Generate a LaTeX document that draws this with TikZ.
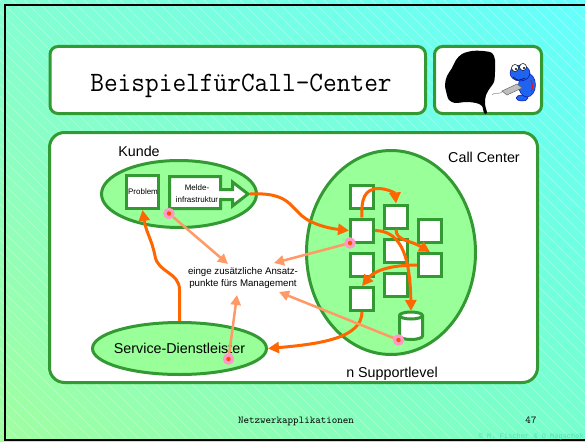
\documentclass[tikz,border=0pt]{standalone}
\usepackage{graphicx}
\usepackage{fontspec}
\setmainfont{Liberation Sans}
\newfontfamily\creditfont{Liberation Mono}
\usetikzlibrary{arrows.meta,shapes.geometric,shadings}

\definecolor{bgUL}{RGB}{130,255,210}
\definecolor{bgUR}{RGB}{100,255,255}
\definecolor{bgLL}{RGB}{160,255,160}
\definecolor{bgLR}{RGB}{118,255,205}
\definecolor{frameGreen}{RGB}{51,153,51}
\definecolor{lightGreen}{RGB}{153,255,153}
\definecolor{flowOrange}{RGB}{255,102,0}
\definecolor{mgmtSalmon}{RGB}{255,153,102}
\definecolor{dotPink}{RGB}{255,153,204}
\definecolor{dotCore}{RGB}{255,80,0}
\definecolor{creatureBlue}{RGB}{30,100,240}
\definecolor{creditTeal}{RGB}{80,225,190}

\tikzset{
  panel/.style={draw=frameGreen, line width=3pt, fill=white, rounded corners=8pt, inner sep=0pt},
  zone/.style={ellipse, draw=frameGreen, line width=3pt, fill=lightGreen, inner sep=0pt},
  sq/.style={draw=frameGreen, line width=3pt, fill=white, minimum size=23pt, inner sep=0pt},
  flow/.style={draw=flowOrange, line width=3pt, -{Triangle[length=11pt,width=11pt]}},
  probe/.style={draw=mgmtSalmon, line width=2.5pt, -{Triangle[length=10pt,width=10pt]}},
  probedot/.style={circle, draw=dotPink, fill=dotCore, line width=3pt, minimum size=8pt, inner sep=0pt},
  zonelabel/.style={font=\fontsize{14.3}{17}\selectfont, inner sep=0pt, anchor=base},
  smalltext/.style={font=\fontsize{8}{12}\selectfont, inner sep=0pt, align=center},
  hatch/.style={draw=white, opacity=0.3, line width=0.5pt},
  creature/.style={fill=creatureBlue, draw=blue!60!black, line width=0.4pt},
}

\begin{document}
\begin{tikzpicture}[x=1pt,y=-1pt]
\useasboundingbox (0,0) rectangle (585,441);

% slide background: diagonal gradient with faint hatching
\shade[upper left=bgUL, upper right=bgUR, lower left=bgLL, lower right=bgLR] (0,0) rectangle (585,441);
\begin{scope}
  \clip (0,0) rectangle (585,441);
  \foreach \k in {-444,-432,...,588} \draw[hatch] (\k,0) -- ++(441,441);
\end{scope}
\draw[black, line width=2pt] (585,5) -- (5,5) -- (5,440) -- (585,440);

% title and logo panels
\node[panel, minimum width=375.5pt, minimum height=67pt] (titlebox) at (237.75,80) {};
\node[anchor=base, font=\ttfamily\fontsize{28}{30}\selectfont, inner sep=0pt] (titletext) at (241,92)
  {\scalebox{0.95}[1]{BeispielfürCall-Center}};
\node[panel, minimum width=107pt, minimum height=67pt] (logobox) at (488,80) {};

% logo: head silhouette
\fill[black] plot[smooth cycle, tension=0.55] coordinates {
  (447,95) (445,85) (447,76) (452,68) (456,60) (462,54) (472,51) (483,51) (492,53)
  (495,60) (495,72) (494,82) (490,88) (486,95) (485,104) (487,113) (484,113)
  (482,106) (476,103) (466,102) (455,103) (449,100)};
% logo: little blue creature at its keyboard
\draw[black!45, line width=0.5pt] (492,95) .. controls (495,91) and (498,96) .. (503,91);
\filldraw[creature] (522,98) ellipse[x radius=6, y radius=3];
\filldraw[creature] (527,85) ellipse[x radius=8.5, y radius=12];
\filldraw[creature] (520,73) ellipse[x radius=10, y radius=8];
\draw[red, line width=0.8pt] (531,80) .. controls (533,86) .. (531,92);
\draw[black, line width=0.5pt] (513,77) .. controls (518,81) .. (525,78);
\filldraw[fill=white, draw=black, line width=0.5pt] (515,68) circle[radius=3.5];
\filldraw[fill=white, draw=black, line width=0.5pt] (523,67) circle[radius=3.5];
\fill[black] (516,69) circle[radius=1.1];
\fill[black] (524,68) circle[radius=1.1];
\filldraw[fill=black!25, draw=black!60, line width=0.5pt] (502,91) -- (517,84) -- (522,88) -- (507,95) -- cycle;

% main board
\node[panel, rounded corners=15pt, minimum width=488pt, minimum height=250pt] (board) at (293.5,257.5) {};

% customer side
\node[zonelabel] (kundelbl) at (139,156) {Kunde};
\node[zone, minimum width=155pt, minimum height=67pt] (kunde) at (179,194) {};
\node[sq, minimum width=32pt, minimum height=33pt] (prob) at (142.5,192) {};
\node[smalltext] (probtext) at (143,192) {Problem};
\draw[draw=frameGreen, line width=3pt, fill=white, line join=miter]
  (169.5,176.5) -- (220.5,176.5) -- (220.5,189.5) -- (232.5,189.5) -- (232.5,182)
  -- (248,194) -- (232.5,206) -- (232.5,199.5) -- (220.5,199.5) -- (220.5,208.5)
  -- (169.5,208.5) -- cycle;
\coordinate (meldetip) at (250,194);
\node[smalltext] (meldetext) at (197,194) {Melde-\\infrastruktur};

% call center side
\node[zonelabel] (cclbl) at (484,162) {Call Center};
\node[zone, minimum width=169pt, minimum height=204pt] (cc) at (391,252.5) {};
\node[zonelabel] (levellbl) at (392,377) {n Supportlevel};

\node[sq] (s11) at (362,196.5) {};
\node[sq] (s12) at (362,230.5) {};
\node[sq] (s13) at (362,265) {};
\node[sq] (s14) at (362,299) {};
\node[sq] (s21) at (396,216.5) {};
\node[sq] (s22) at (396,250.5) {};
\node[sq] (s23) at (396,284.5) {};
\node[sq] (s31) at (430,230.5) {};
\node[sq] (s32) at (430,265) {};

% database cylinder
\filldraw[draw=frameGreen, line width=3pt, fill=white]
  (399.5,315.5) -- (399.5,336) arc[start angle=180, end angle=0, x radius=11.5, y radius=3.5]
  -- (422.5,315.5) arc[start angle=0, end angle=-180, x radius=11.5, y radius=3.5] -- cycle;
\draw[draw=frameGreen, line width=3pt] (399.5,315.5) arc[start angle=180, end angle=0, x radius=11.5, y radius=3.5];
\coordinate (cyltop) at (411,311);

% service provider
\node[zone, minimum width=174pt, minimum height=52pt] (serv) at (179.5,348.5) {};
\node[zonelabel] (servlbl) at (179.5,353) {Service-Dienstleister};

% management text
\node[font=\fontsize{9.7}{12.5}\selectfont, align=center, inner sep=0pt] (mgmt) at (243,278)
  {einge zusätzliche Ansatz-\\punkte fürs Management};

% escalation flow
\draw[flow] (meldetip) .. controls (285,192) and (290,205) .. (298,212)
  .. controls (306,222) and (325,228) .. (s12.west);
\draw[flow] (s12.north) .. controls (361,200) and (364,188.5) .. (379,188.5)
  .. controls (388,189) and (395,193) .. (s21.north);
\draw[flow] (s21.south) .. controls (396,241) and (410,240) .. (s32.north);
\draw[flow] (s12.east) .. controls (398,231) and (410,250) .. (cyltop);
\draw[flow] (s32.west) .. controls (392,265) and (375,270) .. (s14.north);
\draw[flow] (s14.south) .. controls (362,338) and (320,344) .. (serv.east);
\draw[flow] (serv.north) -- (179.5,290) .. controls (179.5,272) and (158,273) .. (155,256)
  .. controls (152,240) and (146,232) .. (prob.south);

% management probes
\coordinate (t1) at (228,264);
\coordinate (t2) at (274,263);
\coordinate (t3) at (279,292);
\coordinate (t4) at (237,295);
\node[probedot] (d1) at (169,213.5) {};
\node[probedot] (d2) at (350,243) {};
\node[probedot] (d3) at (398.5,340) {};
\node[probedot] (d4) at (228.5,359) {};
\draw[probe] (d1) -- (t1);
\draw[probe] (d2) -- (t2);
\draw[probe] (d3) -- (t3);
\draw[probe] (d4) -- (t4);
\node[probedot] at (d1) {};
\node[probedot] at (d2) {};
\node[probedot] at (d3) {};
\node[probedot] at (d4) {};

% footer
\node[anchor=base, font=\ttfamily\fontsize{10.5}{12}\selectfont, inner sep=0pt] (foot) at (296,423) {Netzwerkapplikationen};
\node[anchor=base, font=\ttfamily\fontsize{10.5}{12}\selectfont, inner sep=0pt] (pagenum) at (531,423) {47};
\node[anchor=base east, font=\creditfont\fontsize{7}{8}\selectfont, text=creditTeal, inner sep=0pt] (credit) at (584,438) {© M. Fischer \& G Magschok};
\end{tikzpicture}
\end{document}
